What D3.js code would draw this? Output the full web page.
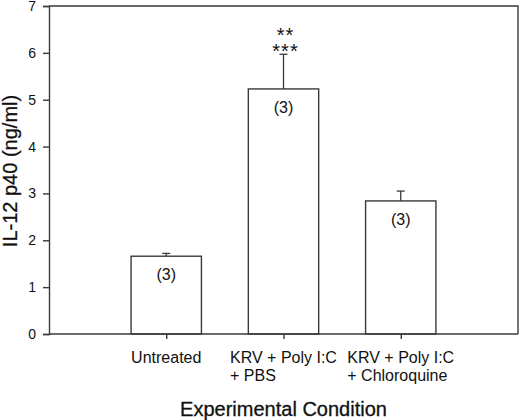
<!DOCTYPE html>
<html>
<head>
<meta charset="utf-8">
<script src="https://cdn.jsdelivr.net/npm/d3@7"></script>
<style>
  body { margin: 0; background: #fff; }
  text { font-family: Arial, "Liberation Sans", sans-serif; fill: #111; }
</style>
</head>
<body>
<script>
// chart values
var categories = ["Untreated", "KRV + Poly I:C\n+ PBS", "KRV + Poly I:C\n+ Chloroquine"];
var means = [1.66, 5.23, 2.84];
var errors = [0.06, 0.74, 0.21];
var nLabels = ["(3)", "(3)", "(3)"];
var stars = [[], ["**", "***"], []];
var yTicks = [0, 1, 2, 3, 4, 5, 6, 7];

function drawChart() {
  var W = 520, H = 420;
  var pLeft = 49, pRight = 518, pTop = 6, pBottom = 334;
  var ink = "#3a3a3a";

  var svg = d3.select("body").append("svg")
      .attr("width", W)
      .attr("height", H);

  var x = d3.scalePoint()
      .domain(categories)
      .range([pLeft, pRight])
      .padding(1);

  var y = d3.scaleLinear()
      .domain([0, 7])
      .range([pBottom, pTop]);

  var barW = x.step() * 0.6;

  // frame top + right
  svg.append("path")
      .attr("d", "M" + pLeft + "," + y(7) + "H" + pRight + "V" + y(0))
      .attr("fill", "none")
      .attr("stroke", ink)
      .attr("stroke-width", 1.4);

  // bars
  svg.selectAll("rect.bar")
    .data(categories)
    .enter().append("rect")
      .attr("class", "bar")
      .attr("x", function(d) { return x(d) - barW / 2; })
      .attr("y", function(d, i) { return y(means[i]); })
      .attr("width", barW)
      .attr("height", function(d, i) { return y(0) - y(means[i]); })
      .attr("fill", "#fff")
      .attr("stroke", ink)
      .attr("stroke-width", 1.4);

  // upper error bars
  var err = svg.selectAll("g.err")
    .data(categories)
    .enter().append("g")
      .attr("class", "err");

  err.append("line")
      .attr("x1", function(d) { return x(d); })
      .attr("x2", function(d) { return x(d); })
      .attr("y1", function(d, i) { return y(means[i]); })
      .attr("y2", function(d, i) { return y(means[i] + errors[i]); })
      .attr("stroke", ink)
      .attr("stroke-width", 1.3);

  err.append("line")
      .attr("x1", function(d) { return x(d) - 4; })
      .attr("x2", function(d) { return x(d) + 4; })
      .attr("y1", function(d, i) { return y(means[i] + errors[i]); })
      .attr("y2", function(d, i) { return y(means[i] + errors[i]); })
      .attr("stroke", ink)
      .attr("stroke-width", 1.3);

  // n labels inside bars
  svg.selectAll("text.n")
    .data(categories)
    .enter().append("text")
      .attr("class", "n")
      .attr("x", function(d) { return x(d); })
      .attr("y", function(d, i) { return y(means[i]) + 18.5; })
      .attr("dy", "0.35em")
      .attr("text-anchor", "middle")
      .style("font-size", "16px")
      .text(function(d, i) { return nLabels[i]; });

  // significance stars (asterisks sit high in the em box)
  categories.forEach(function(c, i) {
    var s = stars[i];
    s.forEach(function(t, k) {
      svg.append("text")
          .attr("x", x(c) + 2)
          .attr("y", y(means[i] + errors[i]) + 3.5 - (s.length - 1 - k) * 15.5)
          .attr("text-anchor", "middle")
          .style("font-size", "20px")
          .style("letter-spacing", "1px")
          .text(t);
    });
  });

  // y axis
  var yAxis = svg.append("g")
      .attr("transform", "translate(" + pLeft + ",0)")
      .call(d3.axisLeft(y).tickValues(yTicks).tickSize(6).tickPadding(7).tickFormat(d3.format("d")));
  yAxis.selectAll("path, line").attr("stroke", ink).attr("stroke-width", 1.4);
  yAxis.selectAll("text")
      .style("font-size", "14px")
      .style("font-family", "Arial, 'Liberation Sans', sans-serif")
      .attr("fill", "#111");

  // x axis
  var xAxis = svg.append("g")
      .attr("transform", "translate(0," + pBottom + ")")
      .call(d3.axisBottom(x).tickSize(5).tickFormat(""));
  xAxis.select("path.domain").attr("d", "M" + pLeft + ",0H" + pRight);
  xAxis.selectAll("path, line").attr("stroke", ink).attr("stroke-width", 1.4);

  // multi-line category labels, lines left aligned, block centred on tick
  categories.forEach(function(c) {
    var lines = c.split("\n");
    var g = svg.append("g");
    var tx = g.selectAll("text")
      .data(lines)
      .enter().append("text")
        .attr("y", function(d, k) { return 363 + k * 17.5; })
        .style("font-size", "16px")
        .text(function(d) { return d; });
    var wmax = d3.max(tx.nodes(), function(n) { return n.getComputedTextLength(); });
    tx.attr("x", x(c) - wmax / 2);
  });

  // axis titles
  svg.append("text")
      .attr("x", (pLeft + pRight) / 2)
      .attr("y", 416)
      .attr("text-anchor", "middle")
      .style("font-size", "20px")
      .style("stroke", "#111")
      .style("stroke-width", 0.3)
      .text("Experimental Condition");

  svg.append("text")
      .attr("transform", "translate(16.5," + ((pTop + pBottom) / 2 + 1) + ") rotate(-90)")
      .attr("text-anchor", "middle")
      .style("font-size", "20px")
      .style("stroke", "#111")
      .style("stroke-width", 0.3)
      .text("IL-12 p40 (ng/ml)");
}

drawChart();
</script>
</body>
</html>
